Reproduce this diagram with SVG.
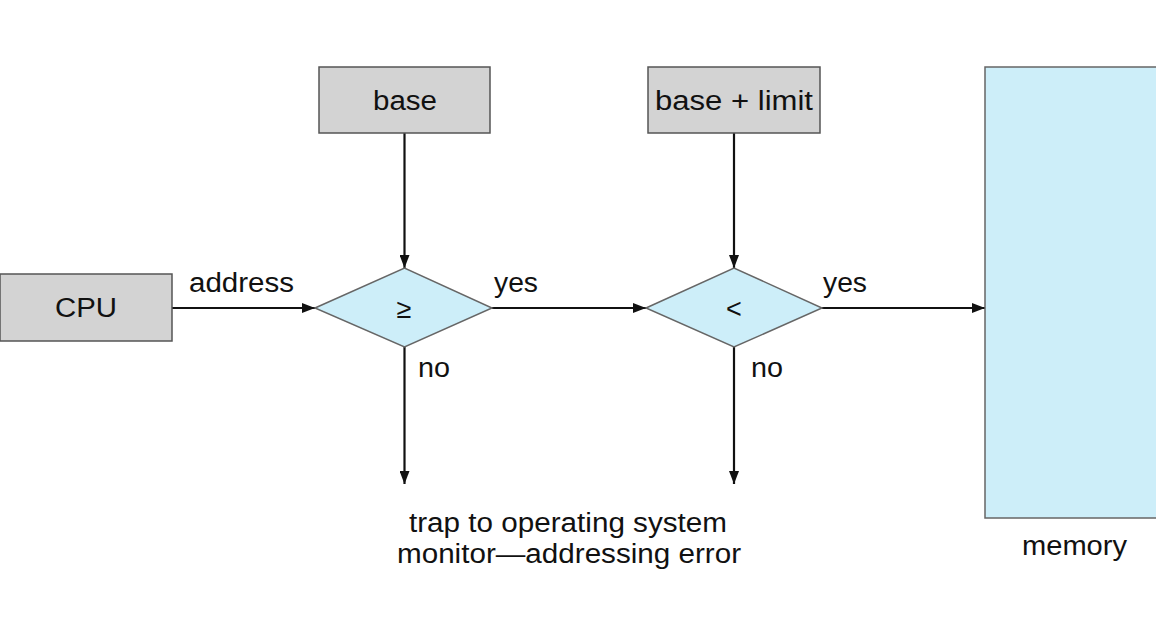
<svg xmlns="http://www.w3.org/2000/svg" width="1156" height="636" viewBox="0 0 1156 636">
<style>
.box{fill:#d3d3d3;stroke:#555;stroke-width:1.5}
.dia{fill:#cdeef9;stroke:#666;stroke-width:1.5}
.mem{fill:#cdeef9;stroke:#666;stroke-width:1.5}
.t{font-family:"Liberation Sans",Arial,sans-serif;font-size:27px;fill:#111}
.c{text-anchor:middle}
.ln{stroke:#111;stroke-width:2.2;fill:none;marker-end:url(#ah)}
</style>
<defs>
<marker id="ah" viewBox="0 0 13 10" refX="13" refY="5" markerWidth="13" markerHeight="10" markerUnits="userSpaceOnUse" orient="auto">
<path d="M0,0 L13,5 L0,10 Z" fill="#111"/>
</marker>
</defs>
<rect width="1156" height="636" fill="#fff"/>
<g id="connectors">
<line class="ln" x1="172" y1="308" x2="315" y2="308"/>
<line class="ln" x1="404.5" y1="133" x2="404.5" y2="268"/>
<line class="ln" x1="492" y1="308" x2="646" y2="308"/>
<line class="ln" x1="734" y1="133" x2="734" y2="268"/>
<line class="ln" x1="822" y1="308" x2="985" y2="308"/>
<line class="ln" x1="404.5" y1="347" x2="404.5" y2="484"/>
<line class="ln" x1="734" y1="347" x2="734" y2="484"/>
<text class="t" x="189" y="292" textLength="105" lengthAdjust="spacingAndGlyphs">address</text>
<text class="t" x="494" y="292" textLength="44" lengthAdjust="spacingAndGlyphs">yes</text>
<text class="t" x="823" y="292" textLength="44" lengthAdjust="spacingAndGlyphs">yes</text>
<text class="t" x="418" y="377" textLength="32" lengthAdjust="spacingAndGlyphs">no</text>
<text class="t" x="751" y="377" textLength="32" lengthAdjust="spacingAndGlyphs">no</text>
</g>
<g id="cpu">
<rect class="box" x="0" y="274" width="172" height="67"/>
<text class="t" x="55" y="317" textLength="62" lengthAdjust="spacingAndGlyphs">CPU</text>
</g>
<g id="base">
<rect class="box" x="319" y="67" width="171" height="66"/>
<text class="t" x="373" y="110" textLength="64" lengthAdjust="spacingAndGlyphs">base</text>
</g>
<g id="baselimit">
<rect class="box" x="648" y="67" width="172" height="66"/>
<text class="t" x="655" y="110" textLength="158" lengthAdjust="spacingAndGlyphs">base + limit</text>
</g>
<g id="cmp1">
<polygon class="dia" points="315,308 404.5,268 492,308 404.5,347"/>
<text class="t c" x="404" y="318">≥</text>
</g>
<g id="cmp2">
<polygon class="dia" points="646,308 734,268 822,308 734,347"/>
<text class="t c" x="734" y="318">&lt;</text>
</g>
<g id="memory">
<rect class="mem" x="985" y="67" width="180" height="451"/>
<text class="t" x="1022" y="555" textLength="105" lengthAdjust="spacingAndGlyphs">memory</text>
</g>
<g id="trap">
<text class="t" x="409" y="532" textLength="318" lengthAdjust="spacingAndGlyphs">trap to operating system</text>
<text class="t" x="397" y="563" textLength="344" lengthAdjust="spacingAndGlyphs">monitor—addressing error</text>
</g>
</svg>
